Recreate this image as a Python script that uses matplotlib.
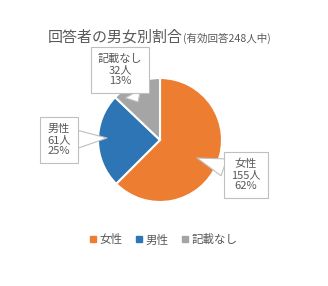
import matplotlib
matplotlib.use("Agg")
import matplotlib.pyplot as plt
from matplotlib.lines import Line2D

plt.rcParams['font.family'] = ['Noto Sans CJK JP', 'DejaVu Sans']

categories = ["女性", "男性", "記載なし"]
counts = [155, 61, 32]
percents = [62, 25, 13]
colors = ["#ED7D31", "#2E75B6", "#A5A5A5"]
title_main = "回答者の男女別割合"
title_sub = "(有効回答248人中)"

W, H = 328, 286
fig = plt.figure(figsize=(W / 100, H / 100), dpi=100)
ax = fig.add_axes([0, 0, 1, 1])

cx, cy, r = 160, H - 140, 62
wedges, _ = ax.pie(counts, colors=colors, startangle=90, counterclock=False,
                   center=(cx, cy), radius=r, frame=True,
                   wedgeprops=dict(edgecolor='white', linewidth=1.5))
ax.set_xlim(0, W)
ax.set_ylim(0, H)
ax.set_aspect('equal')
ax.axis('off')

txt_color = "#595959"
box_centers = [(246, H - 175), (59, H - 140), (120, H - 70)]
tips = [(197, H - 158), (107, H - 138), (138, H - 102)]
for cat, n, p, bc, tp in zip(categories, counts, percents, box_centers, tips):
    ax.annotate(f"{cat}\n{n}人\n{p}%", xy=tp, xytext=bc, ha='center', va='center',
                fontsize=8, color=txt_color, linespacing=1.15,
                bbox=dict(boxstyle='square,pad=0.62', fc='white', ec='#BFBFBF', lw=0.8),
                arrowprops=dict(arrowstyle='wedge,tail_width=1.6,shrink_factor=0.5',
                                fc='white', ec='#BFBFBF', lw=0.8,
                                shrinkA=0, shrinkB=0))

t1 = fig.text(48 / W, 1 - 42 / H, title_main, fontsize=10.8, color=txt_color,
              ha='left', va='baseline')
fig.canvas.draw()
bb = t1.get_window_extent()
fig.text(bb.x1 / W, 1 - 42 / H, title_sub, fontsize=7.6, color=txt_color,
         ha='left', va='baseline')

handles = [Line2D([], [], marker='s', ls='', color=c, markersize=4) for c in colors]
fig.legend(handles, categories, loc='center', bbox_to_anchor=(163 / W, 1 - 240 / H),
           ncol=3, frameon=False, fontsize=8.3, handletextpad=0.2, columnspacing=1.0,
           labelcolor=txt_color, handlelength=0.8)

fig.savefig("out.png", dpi=100, facecolor='white')
